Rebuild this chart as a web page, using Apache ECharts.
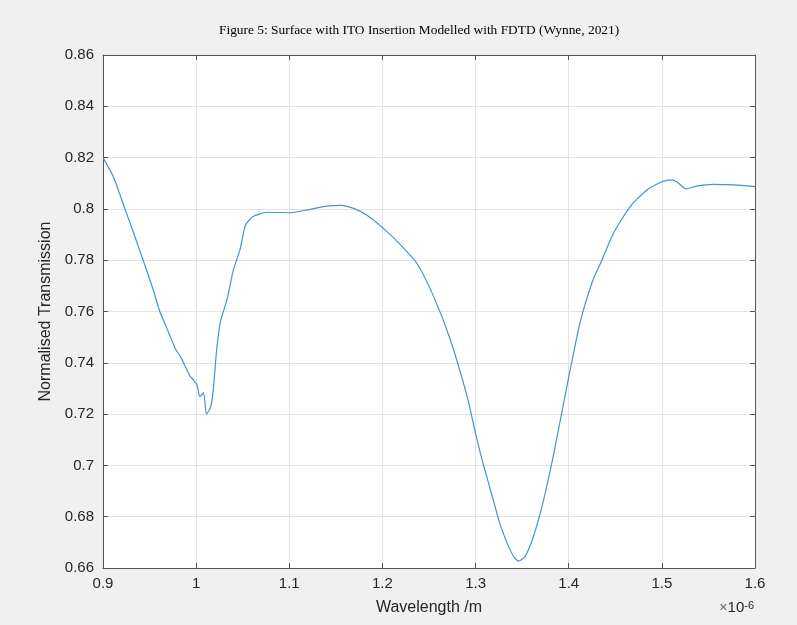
<!DOCTYPE html>
<html>
<head>
<meta charset="utf-8">
<script src="https://cdn.jsdelivr.net/npm/echarts@6/dist/echarts.min.js"></script>
<style>
  html,body{margin:0;padding:0;background:#f0f0f0;}
  #main{width:797px;height:625px;}
</style>
</head>
<body>
<div id="main"></div>
<script>
// wavelength, in units of 1e-6 m (axis shows x10^-6)
var wavelength = [0.900,0.911,0.924,0.933,0.943,0.954,0.961,0.968,0.977,0.983,
  0.986,0.993,0.997,1.001,1.004,1.008,1.011,1.015,1.018,1.022,
  1.026,1.033,1.040,1.047,1.053,1.061,1.076,1.101,1.119,1.140,
  1.155,1.169,1.183,1.201,1.219,1.237,1.255,1.273,1.291,1.300,
  1.308,1.319,1.326,1.334,1.341,1.346,1.353,1.362,1.373,1.384,
  1.398,1.412,1.426,1.435,1.448,1.466,1.484,1.500,1.511,1.516,
  1.526,1.537,1.555,1.577,1.600];
// normalised transmission
var transmission = [0.8200,0.8126,0.7996,0.7905,0.7801,0.7684,0.7600,0.7540,0.7460,0.7424,
  0.7404,0.7350,0.7333,0.7313,0.7268,0.7284,0.7200,0.7222,0.7281,0.7450,
  0.7560,0.7645,0.7762,0.7840,0.7937,0.7970,0.7987,0.7985,0.7996,0.8011,
  0.8014,0.8002,0.7976,0.7924,0.7862,0.7788,0.7658,0.7489,0.7268,0.7125,
  0.7008,0.6865,0.6774,0.6696,0.6644,0.6627,0.6644,0.6722,0.6865,0.7047,
  0.7307,0.7554,0.7723,0.7795,0.7905,0.8009,0.8074,0.8106,0.8113,0.8106,
  0.8078,0.8089,0.8096,0.8094,0.8087];

var xMin = 0.9, xMax = 1.6, xStep = 0.1;
var yMin = 0.66, yMax = 0.86, yStep = 0.02;

var points = [];
for(var i=0;i<wavelength.length;i++){
  points.push([wavelength[i], transmission[i]]);
}

var axisColor = '#555555';
var gridColor = '#e3e3e3';
var font = 'Liberation Sans, Helvetica, Arial, sans-serif';

function yLabel(v){
  return String(+v.toFixed(2));
}
function xLabel(v){
  return String(+v.toFixed(1));
}

var myChart = echarts.init(document.getElementById('main'));
var option = {
  backgroundColor:'#f0f0f0',
  animation:false,
  title:{
    text:'Figure 5: Surface with ITO Insertion Modelled with FDTD (Wynne, 2021)',
    left:214,
    top:19,
    textStyle:{
      fontFamily:'Liberation Serif, Times New Roman, serif',
      fontWeight:'normal',
      fontSize:13.4,
      color:'#000'
    }
  },
  grid:{
    left:103, top:55, right:42, bottom:57,
    show:true,
    backgroundColor:'#ffffff',
    borderWidth:0
  },
  xAxis:[{
    type:'value',
    min:xMin, max:xMax, interval:xStep,
    name:'Wavelength /m',
    nameLocation:'middle',
    nameGap:32,
    nameTextStyle:{fontFamily:font,fontSize:16,color:'#262626'},
    axisLine:{show:true,lineStyle:{color:axisColor,width:1}},
    axisTick:{show:true,inside:true,length:5,lineStyle:{color:axisColor}},
    axisLabel:{fontFamily:font,fontSize:15,color:'#262626',margin:8,formatter:xLabel},
    splitLine:{show:true,lineStyle:{color:gridColor,width:1}}
  },{
    type:'value',
    position:'top',
    min:xMin, max:xMax, interval:xStep,
    axisLine:{show:true,lineStyle:{color:axisColor,width:1}},
    axisTick:{show:true,inside:true,length:5,lineStyle:{color:axisColor}},
    axisLabel:{show:false},
    splitLine:{show:false}
  }],
  yAxis:[{
    type:'value',
    min:yMin, max:yMax, interval:yStep,
    name:'Normalised Transmission',
    nameLocation:'middle',
    nameGap:39,
    nameTextStyle:{fontFamily:font,fontSize:16,color:'#262626'},
    axisLine:{show:true,lineStyle:{color:axisColor,width:1}},
    axisTick:{show:true,inside:true,length:5,lineStyle:{color:axisColor}},
    axisLabel:{fontFamily:font,fontSize:15,color:'#262626',margin:9,formatter:yLabel},
    splitLine:{show:true,lineStyle:{color:gridColor,width:1}}
  },{
    type:'value',
    position:'right',
    min:yMin, max:yMax, interval:yStep,
    axisLine:{show:true,lineStyle:{color:axisColor,width:1}},
    axisTick:{show:true,inside:true,length:5,lineStyle:{color:axisColor}},
    axisLabel:{show:false},
    splitLine:{show:false}
  }],
  graphic:[{
    type:'text',
    right:43,
    top:600,
    style:{
      text:'{x|\u00d7}{b|10}{s|-6}',
      rich:{
        x:{fontFamily:font,fontSize:14,fill:'#666',verticalAlign:'bottom'},
        b:{fontFamily:font,fontSize:15,fill:'#262626',verticalAlign:'bottom'},
        s:{fontFamily:font,fontSize:11,fill:'#262626',verticalAlign:'top'}
      }
    }
  }],
  series:[{
    type:'line',
    data:points,
    showSymbol:false,
    smooth:0.2,
    lineStyle:{color:'#4a90d4',width:1.2},
    silent:true
  }]
};
myChart.setOption(option);
</script>
</body>
</html>
